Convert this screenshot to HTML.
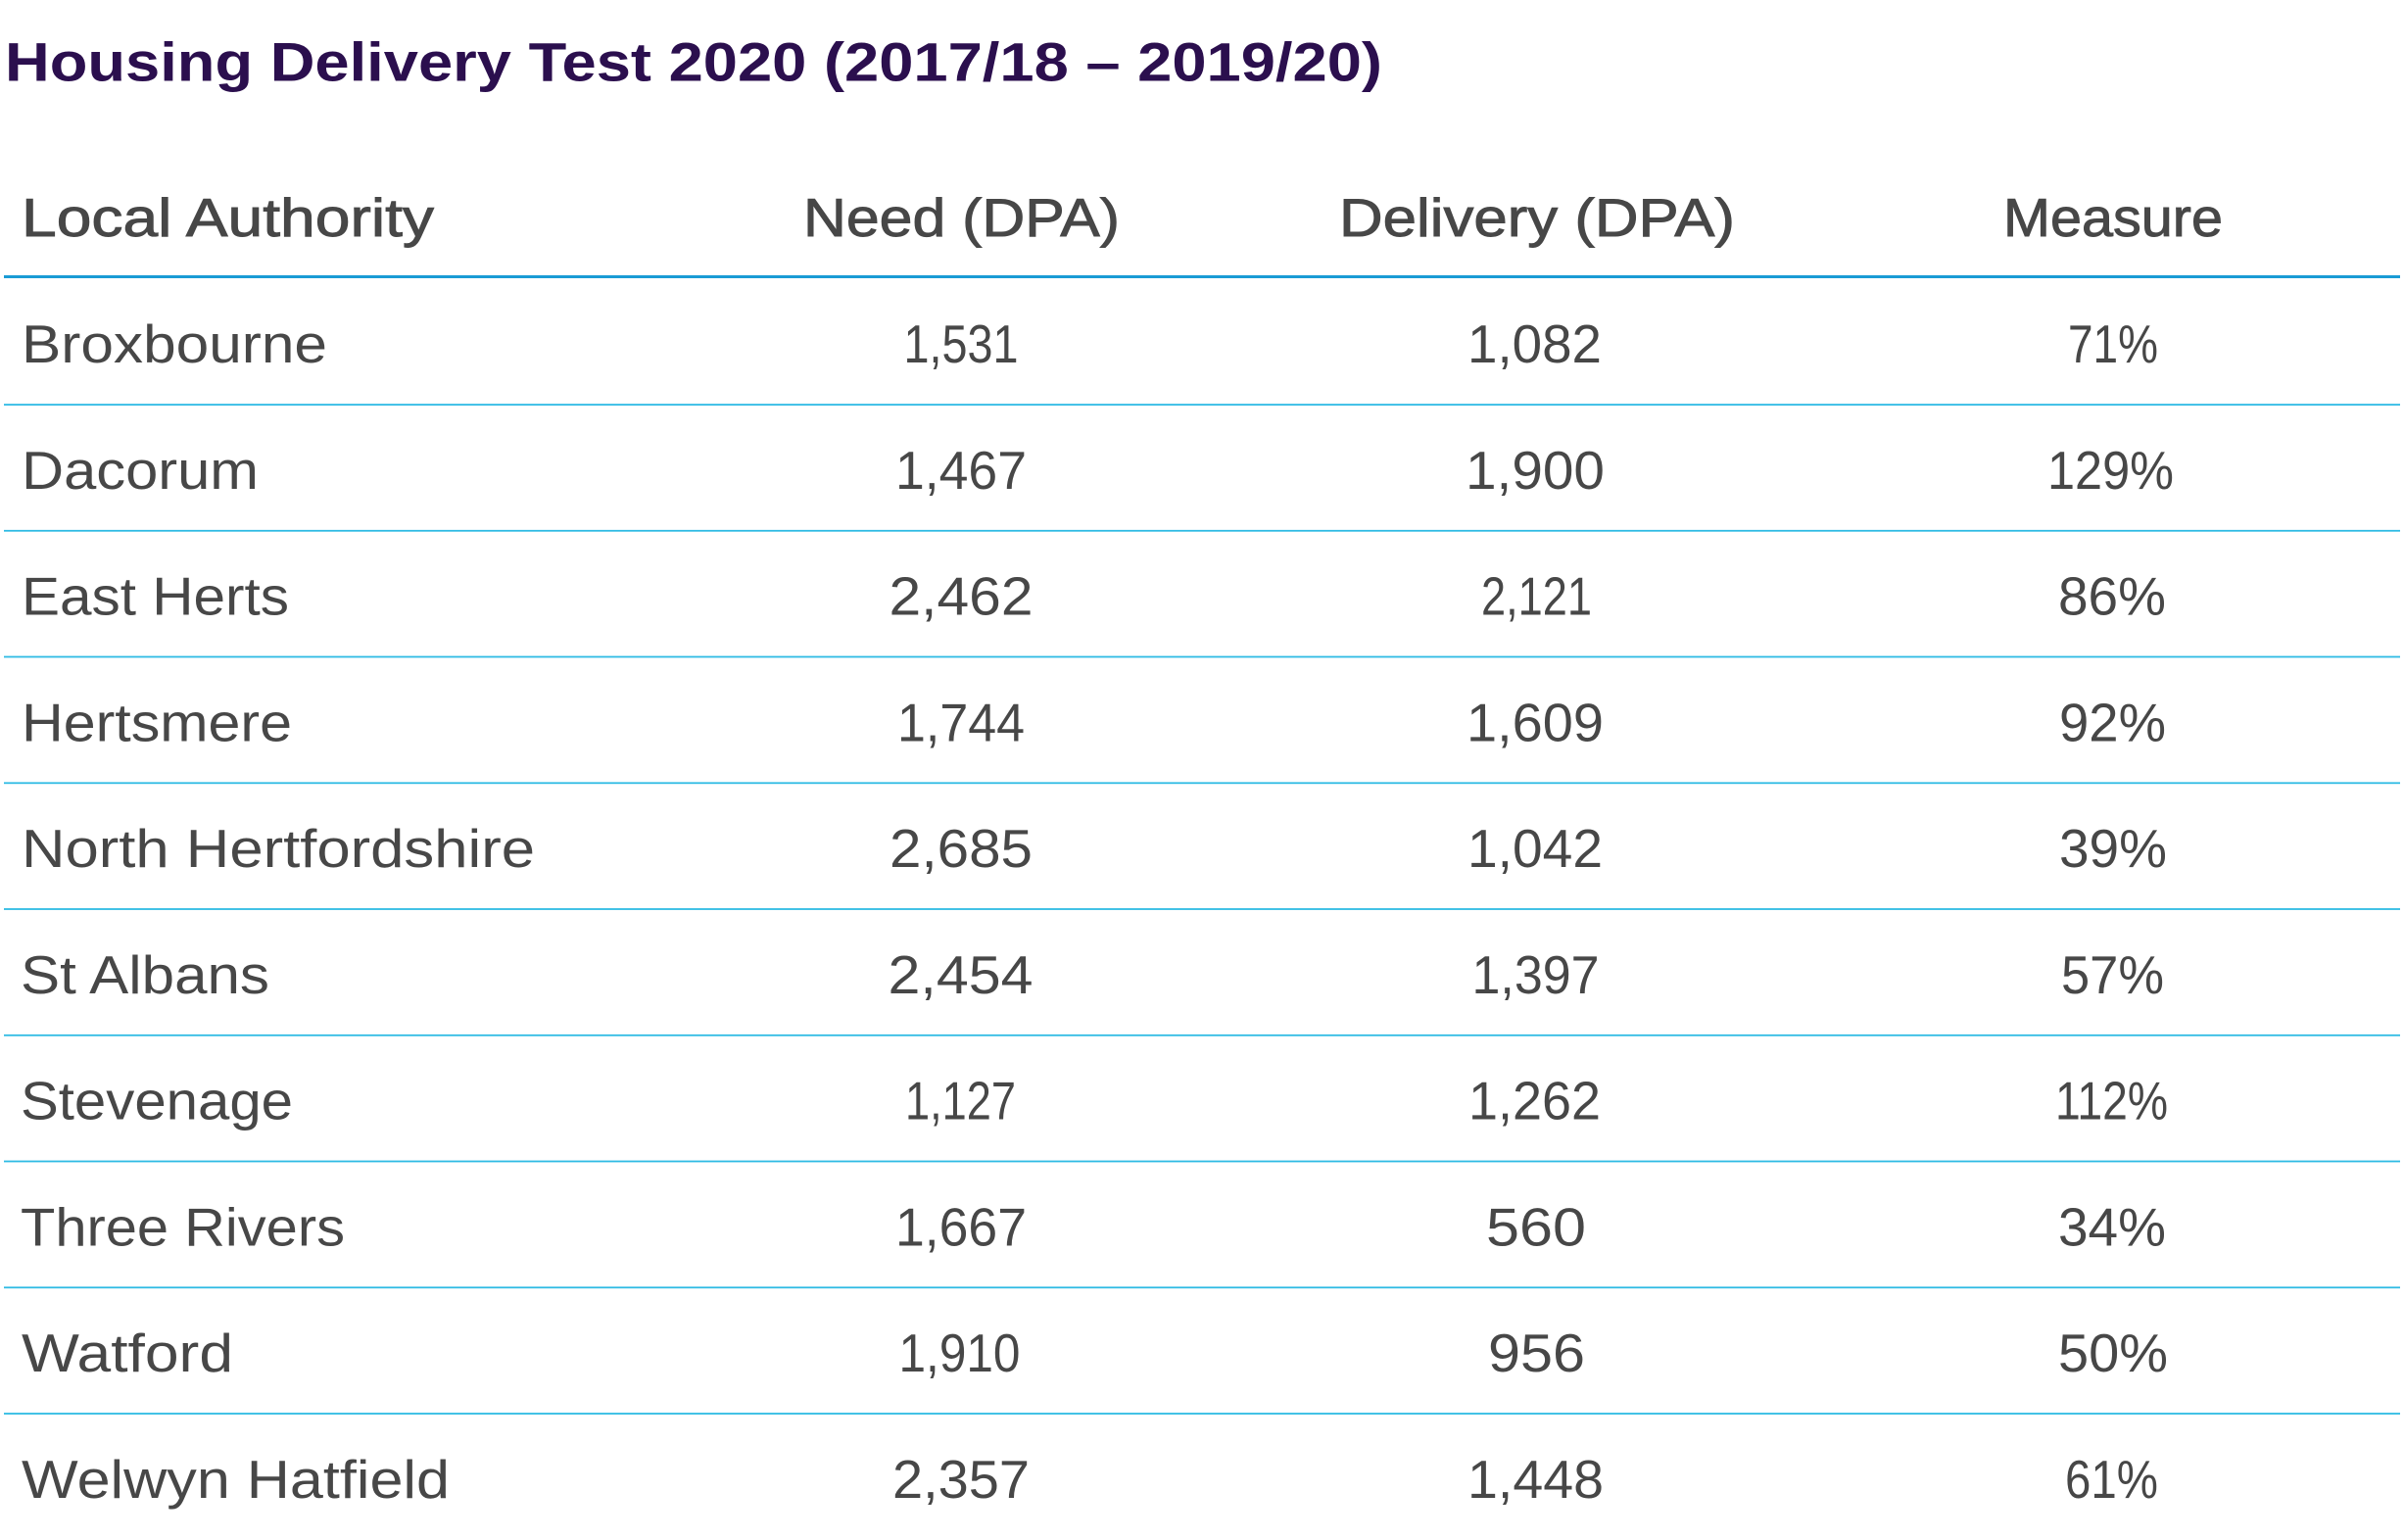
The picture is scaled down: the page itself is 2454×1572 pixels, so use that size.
<!DOCTYPE html>
<html>
<head>
<meta charset="utf-8">
<style>
  html, body { margin: 0; padding: 0; background: #ffffff; }
  body { width: 2454px; height: 1572px; overflow: hidden; }
  svg { display: block; }
  .t { font-family: "Liberation Sans", Arial, sans-serif; }
  .title { font-size: 56px; font-weight: bold; fill: #2b0f4e; }
  .hdr { font-size: 54.5px; fill: #474747; stroke: #474747; stroke-width: 0.9px; }
  .cell { font-size: 54.5px; fill: #474747; }
</style>
</head>
<body>
<svg width="2454" height="1572" viewBox="0 0 2454 1572" xmlns="http://www.w3.org/2000/svg">
  <rect x="0" y="0" width="2454" height="1572" fill="#ffffff"/>

  <!-- Title -->
  <text class="t title" x="5" y="82.7" textLength="1406" lengthAdjust="spacingAndGlyphs">Housing Delivery Test 2020 (2017/18 – 2019/20)</text>

  <!-- Header -->
  <text class="t hdr" x="22" y="241" textLength="421" lengthAdjust="spacingAndGlyphs">Local Authority</text>
  <text class="t hdr" x="981.5" y="241" text-anchor="middle" textLength="323" lengthAdjust="spacingAndGlyphs">Need (DPA)</text>
  <text class="t hdr" x="1569" y="241" text-anchor="middle" textLength="404" lengthAdjust="spacingAndGlyphs">Delivery (DPA)</text>
  <text class="t hdr" x="2157" y="241" text-anchor="middle" textLength="224" lengthAdjust="spacingAndGlyphs">Measure</text>

  <!-- Header line -->
  <rect x="4" y="281" width="2446" height="3" fill="#1a9bd5"/>

  <!-- Row lines -->
  <g fill="#2fbbe4">
    <rect x="4" y="412.2" width="2446" height="1.8"/>
    <rect x="4" y="540.9" width="2446" height="1.8"/>
    <rect x="4" y="669.6" width="2446" height="1.8"/>
    <rect x="4" y="798.4" width="2446" height="1.8"/>
    <rect x="4" y="927.1" width="2446" height="1.8"/>
    <rect x="4" y="1055.9" width="2446" height="1.8"/>
    <rect x="4" y="1184.6" width="2446" height="1.8"/>
    <rect x="4" y="1313.4" width="2446" height="1.8"/>
    <rect x="4" y="1442.1" width="2446" height="1.8"/>
  </g>

  <!-- Row labels -->
  <g class="t cell">
    <text x="22" y="370" textLength="312" lengthAdjust="spacingAndGlyphs">Broxbourne</text>
    <text x="22" y="498.75" textLength="242" lengthAdjust="spacingAndGlyphs">Dacorum</text>
    <text x="22" y="627.5" textLength="273" lengthAdjust="spacingAndGlyphs">East Herts</text>
    <text x="22" y="756.25" textLength="276" lengthAdjust="spacingAndGlyphs">Hertsmere</text>
    <text x="22" y="885" textLength="524" lengthAdjust="spacingAndGlyphs">North Hertfordshire</text>
    <text x="21" y="1013.75" textLength="254" lengthAdjust="spacingAndGlyphs">St Albans</text>
    <text x="21" y="1142.5" textLength="278" lengthAdjust="spacingAndGlyphs">Stevenage</text>
    <text x="21" y="1271.25" textLength="331" lengthAdjust="spacingAndGlyphs">Three Rivers</text>
    <text x="22" y="1400" textLength="216" lengthAdjust="spacingAndGlyphs">Watford</text>
    <text x="22" y="1528.75" textLength="437" lengthAdjust="spacingAndGlyphs">Welwyn Hatfield</text>
  </g>

  <!-- Need (DPA) -->
  <g class="t cell" text-anchor="middle">
    <text x="981" y="370" textLength="117" lengthAdjust="spacingAndGlyphs">1,531</text>
    <text x="981" y="498.75" textLength="134" lengthAdjust="spacingAndGlyphs">1,467</text>
    <text x="981" y="627.5" textLength="147" lengthAdjust="spacingAndGlyphs">2,462</text>
    <text x="981" y="756.25" textLength="130" lengthAdjust="spacingAndGlyphs">1,744</text>
    <text x="981" y="885" textLength="146" lengthAdjust="spacingAndGlyphs">2,685</text>
    <text x="980.5" y="1013.75" textLength="148" lengthAdjust="spacingAndGlyphs">2,454</text>
    <text x="980.5" y="1142.5" textLength="113" lengthAdjust="spacingAndGlyphs">1,127</text>
    <text x="981" y="1271.25" textLength="134" lengthAdjust="spacingAndGlyphs">1,667</text>
    <text x="979.5" y="1400" textLength="124" lengthAdjust="spacingAndGlyphs">1,910</text>
    <text x="981" y="1528.75" textLength="140" lengthAdjust="spacingAndGlyphs">2,357</text>
  </g>

  <!-- Delivery (DPA) -->
  <g class="t cell" text-anchor="middle">
    <text x="1566.5" y="370" textLength="137" lengthAdjust="spacingAndGlyphs">1,082</text>
    <text x="1567" y="498.75" textLength="142" lengthAdjust="spacingAndGlyphs">1,900</text>
    <text x="1568.5" y="627.5" textLength="113" lengthAdjust="spacingAndGlyphs">2,121</text>
    <text x="1567" y="756.25" textLength="140" lengthAdjust="spacingAndGlyphs">1,609</text>
    <text x="1567" y="885" textLength="138" lengthAdjust="spacingAndGlyphs">1,042</text>
    <text x="1567.5" y="1013.75" textLength="130" lengthAdjust="spacingAndGlyphs">1,397</text>
    <text x="1566.5" y="1142.5" textLength="135" lengthAdjust="spacingAndGlyphs">1,262</text>
    <text x="1568" y="1271.25" textLength="102" lengthAdjust="spacingAndGlyphs">560</text>
    <text x="1568.5" y="1400" textLength="99" lengthAdjust="spacingAndGlyphs">956</text>
    <text x="1567.5" y="1528.75" textLength="139" lengthAdjust="spacingAndGlyphs">1,448</text>
  </g>

  <!-- Measure -->
  <g class="t cell" text-anchor="middle">
    <text x="2157" y="370" textLength="92" lengthAdjust="spacingAndGlyphs">71%</text>
    <text x="2154.5" y="498.75" textLength="129" lengthAdjust="spacingAndGlyphs">129%</text>
    <text x="2156" y="627.5" textLength="110" lengthAdjust="spacingAndGlyphs">86%</text>
    <text x="2156.5" y="756.25" textLength="109" lengthAdjust="spacingAndGlyphs">92%</text>
    <text x="2157" y="885" textLength="110" lengthAdjust="spacingAndGlyphs">39%</text>
    <text x="2156.5" y="1013.75" textLength="105" lengthAdjust="spacingAndGlyphs">57%</text>
    <text x="2155.5" y="1142.5" textLength="115" lengthAdjust="spacingAndGlyphs">112%</text>
    <text x="2156" y="1271.25" textLength="110" lengthAdjust="spacingAndGlyphs">34%</text>
    <text x="2157" y="1400" textLength="112" lengthAdjust="spacingAndGlyphs">50%</text>
    <text x="2155.5" y="1528.75" textLength="95" lengthAdjust="spacingAndGlyphs">61%</text>
  </g>
</svg>
</body>
</html>
